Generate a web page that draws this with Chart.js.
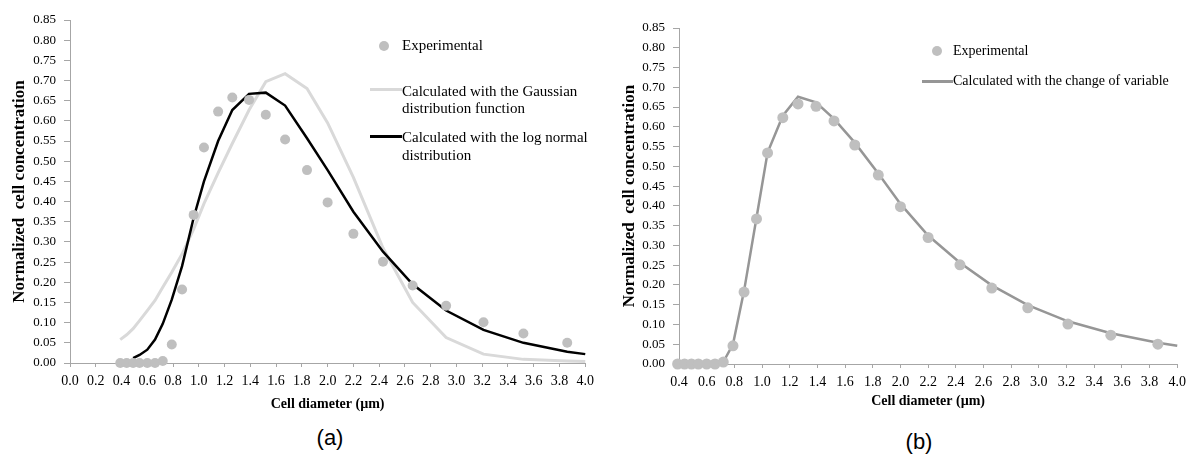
<!DOCTYPE html>
<html>
<head>
<meta charset="utf-8">
<script src="https://cdn.jsdelivr.net/npm/chart.js@4.4.1/dist/chart.umd.min.js"></script>
<style>
    body { margin: 0; background: #fff; width: 1192px; height: 457px; position: relative; overflow: hidden; font-family: 'Liberation Serif', serif; }
    canvas { position: absolute; top: 0; }
    #chartA { left: 0; }
    #chartB { left: 595px; }
    .lg { position: absolute; color: #000; white-space: nowrap; }
    .dot { position: absolute; border-radius: 50%; background: #bfbfbf; }
    .swatch { position: absolute; }
    .caption { position: absolute; font-family: 'Liberation Sans', Arial, sans-serif; font-size: 22px; line-height: 26px; transform: translateX(-50%); }
</style>
</head>
<body>
<canvas id="chartA" width="600" height="420"></canvas>
<canvas id="chartB" width="597" height="420"></canvas>

<!-- legend (a) -->
<div class="dot" style="left:379px;top:41px;width:10px;height:10px;"></div>
<div class="lg" style="left:402px;top:37px;font-size:15px;line-height:17px;">Experimental</div>
<div class="swatch" style="left:370px;top:88px;width:32px;height:3px;background:#d9d9d9;"></div>
<div class="lg" style="left:402px;top:83px;font-size:15px;line-height:17px;">Calculated with the Gaussian<br>distribution function</div>
<div class="swatch" style="left:370px;top:135px;width:32px;height:3px;background:#000;"></div>
<div class="lg" style="left:402px;top:128px;font-size:15px;line-height:18px;">Calculated with the log normal<br>distribution</div>

<!-- legend (b) -->
<div class="dot" style="left:932px;top:46px;width:10px;height:10px;"></div>
<div class="lg" style="left:953px;top:43px;font-size:14px;line-height:16px;">Experimental</div>
<div class="swatch" style="left:922px;top:80px;width:31px;height:3px;background:#969696;"></div>
<div class="lg" style="left:953px;top:73px;font-size:14px;line-height:16px;">Calculated with the change of variable</div>

<div class="caption" style="left:330px;top:425px;">(a)</div>
<div class="caption" style="left:919px;top:429px;">(b)</div>

<script>
// diameters (µm) shared by measured and calculated series
const diameters = [0.39, 0.44, 0.49, 0.54, 0.60, 0.66, 0.72, 0.79, 0.87, 0.96, 1.04, 1.15, 1.26,
    1.39, 1.52, 1.67, 1.84, 2.00, 2.20, 2.43, 2.66, 2.92, 3.21, 3.52, 3.86];
const experimental = [0, 0, 0, 0, 0, 0, 0.005, 0.046, 0.182, 0.367, 0.534, 0.623, 0.658,
    0.652, 0.615, 0.554, 0.478, 0.398, 0.320, 0.251, 0.192, 0.142, 0.101, 0.073, 0.050];

// calculated curves also carry the end point at 4.0
const curveX = [...diameters, 4.0];
const gaussian = [0.058, 0.070, 0.085, 0.105, 0.130, 0.155, 0.188, 0.225, 0.270, 0.332, 0.395, 0.471, 0.544,
    0.627, 0.697, 0.717, 0.680, 0.595, 0.460, 0.285, 0.150, 0.063, 0.022, 0.009, 0.005, 0.004];
const logNormal = [null, null, 0.012, 0.020, 0.033, 0.058, 0.097, 0.157, 0.240, 0.360, 0.450, 0.550, 0.627,
    0.667, 0.670, 0.638, 0.557, 0.478, 0.375, 0.276, 0.195, 0.130, 0.082, 0.050, 0.028, 0.022];
const changeOfVariable = [0, 0, 0, 0, 0, 0, 0.005, 0.050, 0.185, 0.370, 0.535, 0.628, 0.676,
    0.662, 0.620, 0.560, 0.482, 0.405, 0.325, 0.256, 0.199, 0.149, 0.108, 0.078, 0.054, 0.046];

const axisGray = '#a6a6a6';
Chart.defaults.font.family = "'Liberation Serif', 'Times New Roman', serif";
Chart.defaults.color = '#000';

const toPoints = (xs, ys) => xs.map((x, i) => ({ x, y: ys[i] }));

function markerSet(radius) {
    return {
        data: toPoints(diameters, experimental),
        showLine: false,
        pointRadius: radius,
        pointHoverRadius: radius,
        pointBackgroundColor: '#bfbfbf',
        pointBorderWidth: 0,
        clip: false,
    };
}

function curveSet(values, color, width) {
    return {
        data: toPoints(curveX, values),
        showLine: true,
        borderColor: color,
        borderWidth: width,
        pointRadius: 0,
        tension: 0,
        spanGaps: false,
        clip: false,
    };
}

function buildOptions(cfg) {
    return {
        responsive: false,
        animation: false,
        layout: { padding: cfg.padding },
        plugins: { legend: { display: false }, tooltip: { enabled: false } },
        scales: {
            x: {
                type: 'linear',
                min: cfg.xMin,
                max: 4.0,
                afterFit: s => { s.height = cfg.xHeight; },
                afterBuildTicks: s => {
                    s.ticks = [];
                    for (let v = Math.round(cfg.xMin * 10); v <= 40; v += 2) s.ticks.push({ value: v / 10 });
                },
                ticks: {
                    font: { size: 14 },
                    padding: 6,
                    maxRotation: 0,
                    autoSkip: false,
                    callback: v => v.toFixed(1),
                },
                grid: { drawOnChartArea: false, drawTicks: true, tickLength: 4, tickColor: axisGray },
                border: { display: true, color: axisGray, width: 1 },
                title: {
                    display: true,
                    text: 'Cell diameter (µm)',
                    font: { size: 14, weight: 'bold' },
                    padding: { top: 0, bottom: cfg.xTitlePad },
                },
            },
            y: {
                min: 0,
                max: 0.85,
                afterFit: s => { s.width = cfg.yWidth; },
                afterBuildTicks: s => {
                    s.ticks = [];
                    for (let v = 0; v <= 85; v += 5) s.ticks.push({ value: v / 100 });
                },
                ticks: {
                    font: { size: 13 },
                    padding: 8,
                    autoSkip: false,
                    callback: v => v.toFixed(2),
                },
                grid: { drawOnChartArea: false, drawTicks: true, tickLength: 6, tickColor: axisGray },
                border: { display: true, color: axisGray, width: 1 },
                title: {
                    display: true,
                    text: 'Normalized  cell concentration',
                    font: { size: 17, weight: 'bold' },
                    padding: { top: cfg.yTitlePad, bottom: 0 },
                },
            },
        },
    };
}

new Chart(document.getElementById('chartA'), {
    type: 'scatter',
    data: {
        datasets: [
            markerSet(5),
            curveSet(logNormal, '#000000', 2.5),
            curveSet(gaussian, '#d9d9d9', 3),
        ],
    },
    options: buildOptions({
        padding: { left: 0, top: 20, right: 11, bottom: 0 },
        xMin: 0, xHeight: 57, xTitlePad: 7,
        yWidth: 70, yTitlePad: 9,
    }),
});

new Chart(document.getElementById('chartB'), {
    type: 'scatter',
    data: {
        datasets: [
            markerSet(5.5),
            curveSet(changeOfVariable, '#969696', 2.5),
        ],
    },
    options: buildOptions({
        padding: { left: 0, top: 28, right: 10, bottom: 0 },
        xMin: 0.4, xHeight: 56, xTitlePad: 10,
        yWidth: 84, yTitlePad: 24,
    }),
});
</script>
</body>
</html>
